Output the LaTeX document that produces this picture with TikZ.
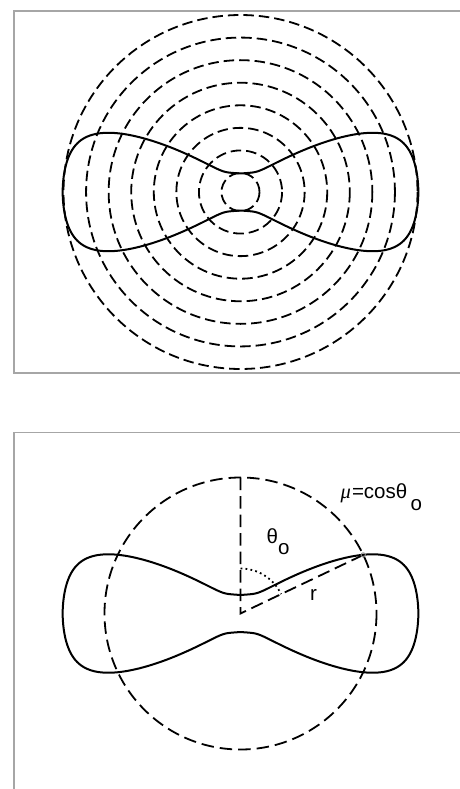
\documentclass[tikz,border=0pt]{standalone}
\usepackage{fontspec}
\setmainfont{Liberation Sans}
\newfontfamily\serifface{Liberation Serif}
\begin{document}
\begin{tikzpicture}[x=1pt,y=-1pt,
  frame/.style={draw=black!35, line width=1.3pt},
  dashcirc/.style={draw=black, line width=1.8pt, dash pattern=on 10.5pt off 5pt},
  dashbig/.style={draw=black, line width=1.8pt, dash pattern=on 12.5pt off 6pt},
  peanut/.style={draw=black, line width=2pt, line join=round},
  dotarc/.style={draw=black, line width=1.8pt, dash pattern=on 1.8pt off 3.2pt},
  lbl/.style={inner sep=0pt, anchor=base west, font=\fontsize{20.5}{24}\selectfont},
  declare function={pr(\t)=18.5+12*sin(\t)*sin(\t)+147.5/(1+exp(14*(abs(cos(\t))-0.503)));}
]
\useasboundingbox (0,0) rectangle (460,789);
% frames
\draw[frame] (460,11) -- (14,11) -- (14,373) -- (460,373);
\draw[frame] (460,432.7) -- (14,432.7) -- (14,789);
% top panel
\coordinate (O1) at (240.5,192);
\foreach \k in {0,...,7} \draw[dashcirc] (O1) circle[radius={19+22.57*\k}];
\draw[peanut] plot[domain=0:359.5, samples=720, variable=\t] ({240.5+pr(\t)*sin(\t)},{192+pr(\t)*cos(\t)}) -- cycle;
% bottom panel
\coordinate (O2) at (240.5,613.5);
\draw[dashbig] (O2) circle[radius=136];
\draw[peanut] plot[domain=0:359.5, samples=720, variable=\t] ({240.5+pr(\t)*sin(\t)},{613.5+pr(\t)*cos(\t)}) -- cycle;
\coordinate (T) at (240.5,477.5);
\path (O2) ++(-25.5:136) coordinate (P);
\draw[dashbig] (T) -- (O2) -- (P);
\draw[dotarc] (O2) ++(-90:45) arc[start angle=-90, end angle=-25.5, radius=45];
\draw[black!45, line width=0.8pt] (P) circle[radius=2.2];
% labels
\node[lbl] (th) at (266.5,543.3) {θ};
\node[lbl] (tho) at (278,554) {o};
\node[lbl] (rl) at (310,600) {r};
\node[lbl] (mu) at (340.5,498) {\serifface\itshape μ};
\node[lbl] (eq) at (351.8,498) {=cosθ};
\node[lbl] (muo) at (410.5,510) {o};
\end{tikzpicture}
\end{document}
